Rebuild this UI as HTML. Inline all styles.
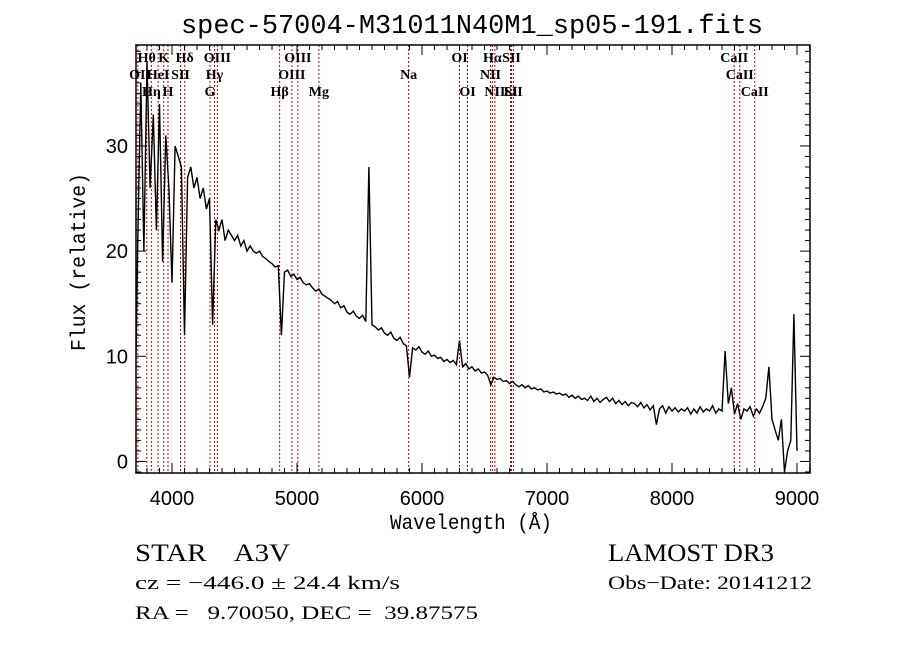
<!DOCTYPE html>
<html><head><meta charset="utf-8"><style>
body{margin:0;background:#fff;}
svg{display:block;}
text{font-family:"Liberation Serif",serif;fill:#000;}
</style></head><body>
<svg id="chart" width="900" height="649" viewBox="0 0 900 649" xmlns="http://www.w3.org/2000/svg">
<rect width="900" height="649" fill="#fff"/>
<text x="472" y="33" font-size="27" text-anchor="middle" textLength="582" lengthAdjust="spacingAndGlyphs" style="font-family:'Liberation Mono',monospace">spec-57004-M31011N40M1_sp05-191.fits</text>
<g id="lines"></g>
<g id="labels"></g>
<g id="spec"></g>
<g id="axes"></g>
<text x="471" y="529" font-size="21" text-anchor="middle" textLength="162" lengthAdjust="spacingAndGlyphs" style="font-family:'Liberation Mono',monospace">Wavelength (Å)</text>
<text transform="translate(85,262) rotate(-90)" font-size="21" text-anchor="middle" textLength="178" lengthAdjust="spacingAndGlyphs" style="font-family:'Liberation Mono',monospace">Flux (relative)</text>
<text x="135" y="561" font-size="25" textLength="155" lengthAdjust="spacingAndGlyphs" xml:space="preserve">STAR    A3V</text>
<text x="608" y="561" font-size="25" textLength="166" lengthAdjust="spacingAndGlyphs">LAMOST DR3</text>
<text x="135" y="589" font-size="19" textLength="265" lengthAdjust="spacingAndGlyphs">cz = −446.0 ± 24.4 km/s</text>
<text x="608" y="589" font-size="19" textLength="204" lengthAdjust="spacingAndGlyphs">Obs−Date: 20141212</text>
<text x="135" y="619" font-size="19" textLength="343" lengthAdjust="spacingAndGlyphs" xml:space="preserve">RA =   9.70050, DEC =  39.87575</text>
</svg>
<script>
const startWave = 3700;
const stepWave = 25;
const flux = [
1,20,36,20,38,26,33,22,
34,19,31,26,17,30,29,28,
12,27,28,26,27,25,26,24,
25,13,23,22,23,21,22,21.5,
21,21.5,20.5,21,20,20.5,20,19.8,
20,19.5,19.3,19,18.8,18.5,18.6,12,
18,18.2,17.6,17.8,17.3,17.5,17,16.8,
16.9,16.5,16.2,16.4,15.9,15.7,15.5,15.3,
15,15.2,14.6,14.8,14.2,14,14.3,13.8,
13.6,13.9,13.3,28,13,12.8,12.5,12.7,
12.2,12,12.3,11.7,11.5,11.8,11.2,11,
8,10.8,10.6,10.9,10.4,10.2,10.5,10,
10.1,9.8,9.9,9.5,9.7,9.4,9.6,9.2,
11.5,9,9.3,8.8,9,8.6,8.8,8.4,
8.5,8.2,7.3,8,7.8,7.9,7.6,7.7,
7.4,7.6,7.3,7.1,7.3,7,7.2,6.9,
7,6.8,6.9,6.6,6.7,6.5,6.6,6.4,
6.5,6.3,6.4,6.1,6.3,6,6.2,5.9,
6,5.8,6.2,5.7,6,5.6,5.9,6.1,
5.7,6,5.5,5.8,5.4,5.7,5.3,5.6,
5.5,5.2,5.6,5.1,5.4,4.9,5.3,3.5,
5,5.3,4.6,5.2,4.8,5.1,4.7,5,
4.8,5.1,4.5,5,4.6,5.2,4.7,5,
4.8,5.3,4.6,5,4.8,10.5,5.5,7,
4.5,5.5,4,5,4.8,5.2,4.3,5,
4.6,5.2,6,9,4,3,2,4,
-1,1,2,14,1
];
const lineWaves = [3727,3798,3835,3889,3934,3968,4068,4102,4304,4340,4363,4861,4959,5007,5175,5893,6300,6364,6548,6563,6583,6708,6716,6731,8498,8542,8662];
const lineLabels = ["OII","Hθ","Hη","HeI","K","H","SII","Hδ","G","Hγ","OIII","Hβ","OIII","OIII","Mg","Na","OI","OI","NII","Hα","NII","Li","SII","SII","CaII","CaII","CaII"];
const lineRows = [2,1,3,2,1,3,2,1,3,2,1,3,2,1,3,2,1,3,2,1,3,3,1,3,1,2,3];
const xTicks = [4000,5000,6000,7000,8000,9000];
const yTicks = [0,10,20,30];

const L=136,R=810,T=45,B=473;
const xMin=3712,xMax=9104,yMin=-1.1,yMax=39.6;
const X=w=>L+(w-xMin)/(xMax-xMin)*(R-L);
const Y=v=>B-(v-yMin)/(yMax-yMin)*(B-T);
const NS="http://www.w3.org/2000/svg";
function mk(tag,parent){const e=document.createElementNS(NS,tag);parent.appendChild(e);return e;}

const gl=document.getElementById('lines');
const glab=document.getElementById('labels');
lineWaves.forEach((w,i)=>{
  const ln=mk('line',gl);
  
  
  ln.setAttribute('x1',X(w));ln.setAttribute('x2',X(w));
  ln.setAttribute('y1',T);ln.setAttribute('y2',B);
  ln.setAttribute('stroke','#c00000');ln.setAttribute('stroke-width','1');
  ln.setAttribute('stroke-dasharray','2,2');
  const t=mk('text',glab);
  
  
  t.setAttribute('x',Math.max(X(w),140));t.setAttribute('y',[0,62,79,96][lineRows[i]]);
  t.setAttribute('font-size','14');t.setAttribute('font-weight','bold');t.setAttribute('text-anchor','middle');
  t.textContent=lineLabels[i];
});

const gs=document.getElementById('spec');
const clip=mk('clipPath',gs);clip.setAttribute('id','cp');
const cr=mk('rect',clip);cr.setAttribute('x',L);cr.setAttribute('y',T);cr.setAttribute('width',R-L);cr.setAttribute('height',B-T);
const p=mk('polyline',gs);


p.setAttribute('points',flux.map((v,i)=>X(startWave+i*stepWave).toFixed(1)+','+Y(v).toFixed(1)).join(' '));
p.setAttribute('fill','none');p.setAttribute('stroke','#000');p.setAttribute('stroke-width','1.4');
p.setAttribute('clip-path','url(#cp)');

const ga=document.getElementById('axes');
const fr=mk('rect',ga);


fr.setAttribute('x',L);fr.setAttribute('y',T);fr.setAttribute('width',R-L);fr.setAttribute('height',B-T);
fr.setAttribute('fill','none');fr.setAttribute('stroke','#000');fr.setAttribute('stroke-width','1.5');
function tick(x1,y1,x2,y2){const l=mk('line',ga);l.setAttribute('x1',x1);l.setAttribute('y1',y1);l.setAttribute('x2',x2);l.setAttribute('y2',y2);l.setAttribute('stroke','#000');l.setAttribute('stroke-width','1');}
for(let w=3800;w<=9100;w+=100){const x=X(w),len=(w%1000===0)?10:5;tick(x,B,x,B-len);tick(x,T,x,T+len);}
for(let v=-1;v<=39;v++){const y=Y(v),len=(v%10===0)?10:5;tick(L,y,L+len,y);tick(R,y,R-len,y);}
xTicks.forEach(w=>{const t=mk('text',ga);
  
  
  t.setAttribute('x',X(w));t.setAttribute('y',505);t.setAttribute('font-size','20');t.setAttribute('text-anchor','middle');
  t.setAttribute('style',"font-family:'Liberation Sans',sans-serif");t.textContent=w;});
yTicks.forEach(v=>{const t=mk('text',ga);
  
  
  t.setAttribute('x',128);t.setAttribute('y',Y(v)+7);t.setAttribute('font-size','20');t.setAttribute('text-anchor','end');
  t.setAttribute('style',"font-family:'Liberation Sans',sans-serif");t.textContent=v;});
</script>
</body></html>
